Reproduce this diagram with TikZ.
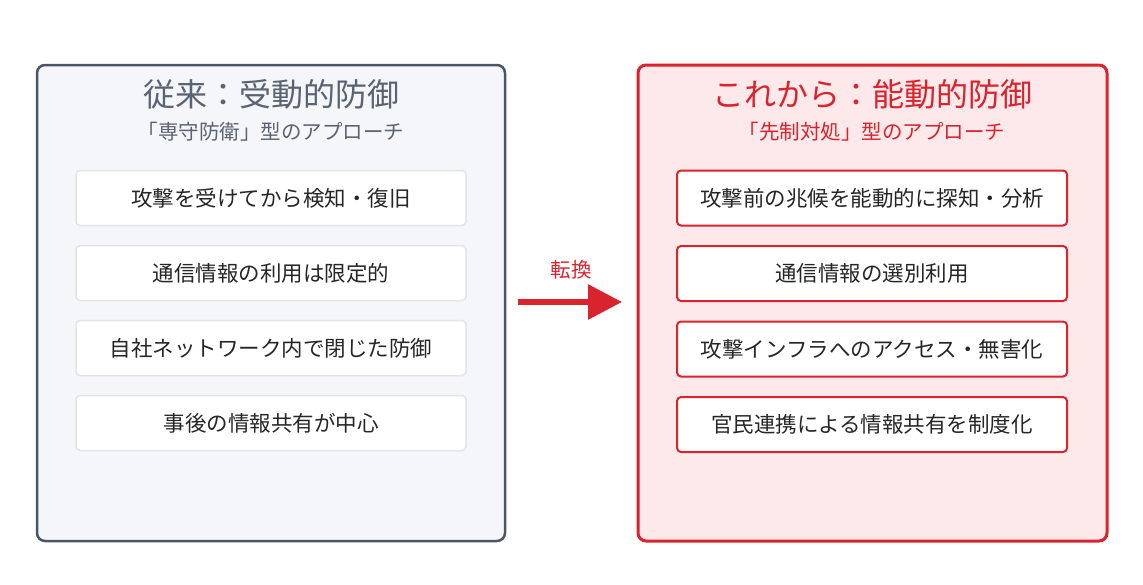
\documentclass[tikz,border=0pt]{standalone}
\usepackage{fontspec}
\setmainfont{Noto Sans CJK JP}
\usetikzlibrary{positioning,arrows.meta}
\definecolor{oldline}{HTML}{4A5568}
\definecolor{oldfill}{HTML}{F5F6FA}
\definecolor{newline}{HTML}{D9232D}
\definecolor{newfill}{HTML}{FDE8EA}
\definecolor{itemline}{HTML}{E2E4EA}
\definecolor{oldtext}{HTML}{5A6372}
\begin{document}
\begin{tikzpicture}[x=1pt,y=-1pt,
  panel/.style={rounded corners=8pt,line width=2.5pt},
  item/.style={draw,rounded corners=4pt,line width=1.5pt,fill=white,minimum width=390pt,minimum height=55pt,font=\fontsize{21.5}{24}\selectfont,text=black!85},
  ttl/.style={font=\fontsize{32}{36}\selectfont},
  sub/.style={font=\fontsize{20.5}{24}\selectfont}]
\useasboundingbox (0,0) rectangle (1143,584);
% left panel
\draw[panel,draw=oldline,fill=oldfill] (37,65) rectangle (505,541);
\node[ttl,text=oldtext] (oldtitle) at (271,94) {従来：受動的防御};
\node[sub,text=oldtext] (oldsub) at (271,132) {「専守防衛」型のアプローチ};
\node[item,draw=itemline] (o1) at (271,198) {攻撃を受けてから検知・復旧};
\node[item,draw=itemline,below=18.5pt of o1] (o2) {通信情報の利用は限定的};
\node[item,draw=itemline,below=18.5pt of o2] (o3) {自社ネットワーク内で閉じた防御};
\node[item,draw=itemline,below=18.5pt of o3] (o4) {事後の情報共有が中心};
% right panel
\draw[panel,line width=3pt,draw=newline,fill=newfill] (638,65) rectangle (1107,541);
\node[ttl,text=newline] (newtitle) at (872,94) {これから：能動的防御};
\node[sub,text=newline] (newsub) at (872,132) {「先制対処」型のアプローチ};
\node[item,line width=2pt,draw=newline] (n1) at (872,198) {攻撃前の兆候を能動的に探知・分析};
\node[item,line width=2pt,draw=newline,below=18.5pt of n1] (n2) {通信情報の選別利用};
\node[item,line width=2pt,draw=newline,below=18.5pt of n2] (n3) {攻撃インフラへのアクセス・無害化};
\node[item,line width=2pt,draw=newline,below=18.5pt of n3] (n4) {官民連携による情報共有を制度化};
% arrow
\coordinate (a1) at (518,302);
\coordinate (a2) at (622,302);
\draw[newline,line width=6pt,-{Triangle[length=34pt,width=34pt]}] (a1) -- (a2);
\node[sub,text=newline] (shift) at (571,270) {転換};
\end{tikzpicture}
\end{document}
